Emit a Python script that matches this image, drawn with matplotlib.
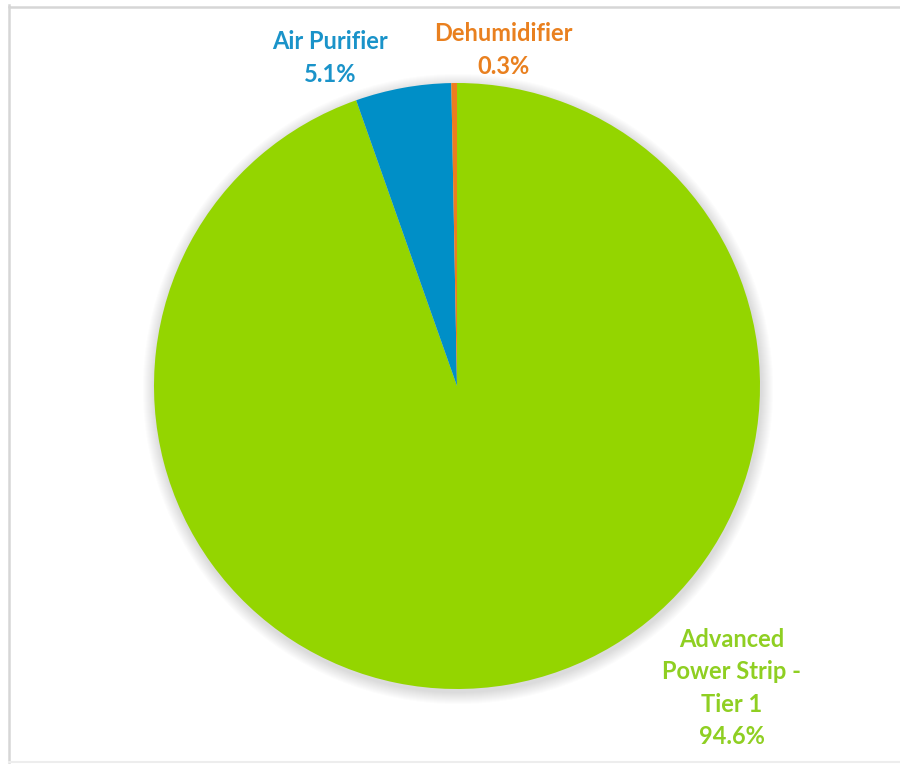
import numpy as np
import matplotlib
matplotlib.use("Agg")
import matplotlib.pyplot as plt
from matplotlib.patches import Circle

# measure savings share by product
labels = ["Advanced\nPower Strip -\nTier 1", "Air Purifier", "Dehumidifier"]
shares = [94.6, 5.1, 0.3]
colors = ["#94D500", "#008FC7", "#EE7D1E"]
label_colors = ["#8FCF22", "#1A93C9", "#E9801F"]

W, H = 900, 767
fig = plt.figure(figsize=(W / 100, H / 100), dpi=100)
ax = fig.add_axes([0, 0, 1, 1])

# chart border: left, top and a faint bottom edge
ax.plot([9, 9, W], [H - 5, H - 7, H - 7], color="#D6D6D6", lw=1.8, zorder=0)
ax.plot([9, 9], [5, H - 7], color="#D6D6D6", lw=1.8, zorder=0)
ax.plot([9, W], [5, 5], color="#EDEDED", lw=1.5, zorder=0)

cx, cy, r = 457, H - 386, 303

# soft drop shadow under the pie
for k in range(12):
    ax.add_patch(Circle((cx + 1, cy - 3), r + 12 - k, color="#6E6E7A", alpha=0.018, lw=0, zorder=1))

wedges, _ = ax.pie(shares, colors=colors, startangle=90, counterclock=False,
                   center=(cx, cy), radius=r, frame=True,
                   wedgeprops=dict(linewidth=0, zorder=2))
ax.set_xlim(0, W)
ax.set_ylim(0, H)
ax.set_aspect("equal")
ax.axis("off")

font = dict(family="Lato", fontweight="bold", fontsize=17, ha="center", va="center",
            linespacing=1.5)

# label positions (pixel space from the top-left)
pos = [(732, 688), (330, 58), (503, 50)]
for lab, val, c, (x, y) in zip(labels, shares, label_colors, pos):
    ax.text(x, H - y, "%s\n%.1f%%" % (lab, val), color=c, **font)

fig.savefig("out.png", dpi=100)
